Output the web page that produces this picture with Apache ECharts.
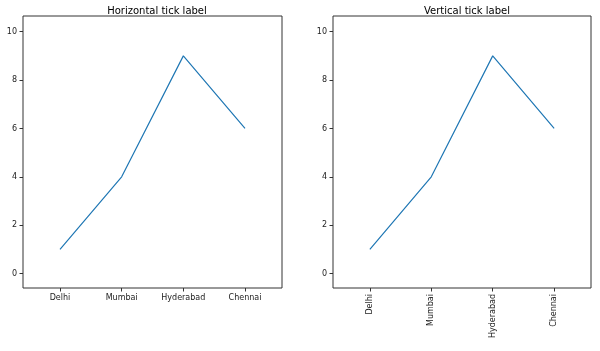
<!DOCTYPE html>
<html>
<head>
<meta charset="utf-8">
<script src="https://cdn.jsdelivr.net/npm/echarts@6/dist/echarts.min.js"></script>
<style>
  html, body { margin: 0; padding: 0; background: #fff; }
  #chart { width: 600px; height: 351px; }
</style>
</head>
<body>
<div id="chart"></div>
<script>
var cities = ['Delhi', 'Mumbai', 'Hyderabad', 'Chennai'];
var values = [1, 4, 9, 6];
var yTicks = [0, 2, 4, 6, 8, 10];
var titles = ['Horizontal tick label', 'Vertical tick label'];

var lineColor = '#1f77b4';
var textColor = '#222';
var font = 'DejaVu Sans';

var points = values.map(function (v, i) { return [i, v]; });
var xTicks = cities.map(function (c, i) { return i; });

function xAxis(idx, rotate) {
    return {
        type: 'value', gridIndex: idx, min: -0.6, max: 3.6,
        splitLine: { show: false },
        axisLine: { show: false, onZero: false },
        axisTick: { show: true, length: 3.5, customValues: xTicks, lineStyle: { color: '#333' } },
        axisLabel: {
            customValues: xTicks, rotate: rotate, margin: 6,
            color: textColor, fontSize: 8, fontFamily: font,
            formatter: function (v) { return cities[Math.round(v)]; }
        }
    };
}

function yAxis(idx) {
    return {
        type: 'value', gridIndex: idx, min: -0.6, max: 10.65,
        splitLine: { show: false },
        axisLine: { show: false, onZero: false },
        axisTick: { show: true, length: 3.5, customValues: yTicks, lineStyle: { color: '#333' } },
        axisLabel: { customValues: yTicks, margin: 6, color: textColor, fontSize: 8, fontFamily: font }
    };
}

var chart = echarts.init(document.getElementById('chart'));
chart.setOption({
    animation: false,
    title: [
        { text: titles[0], left: 152, top: 1, textAlign: 'center',
          textStyle: { fontSize: 10, fontWeight: 'normal', color: '#000', fontFamily: font } },
        { text: titles[1], left: 462, top: 1, textAlign: 'center',
          textStyle: { fontSize: 10, fontWeight: 'normal', color: '#000', fontFamily: font } }
    ],
    grid: [
        { left: 23, right: 318, top: 16, bottom: 63, show: true, borderColor: '#333', borderWidth: 1 },
        { left: 333, right: 9, top: 16, bottom: 63, show: true, borderColor: '#333', borderWidth: 1 }
    ],
    xAxis: [xAxis(0, 0), xAxis(1, 90)],
    yAxis: [yAxis(0), yAxis(1)],
    series: [
        { type: 'line', xAxisIndex: 0, yAxisIndex: 0, data: points, showSymbol: false,
          lineStyle: { color: lineColor, width: 1.2 } },
        { type: 'line', xAxisIndex: 1, yAxisIndex: 1, data: points, showSymbol: false,
          lineStyle: { color: lineColor, width: 1.2 } }
    ]
});
</script>
</body>
</html>
